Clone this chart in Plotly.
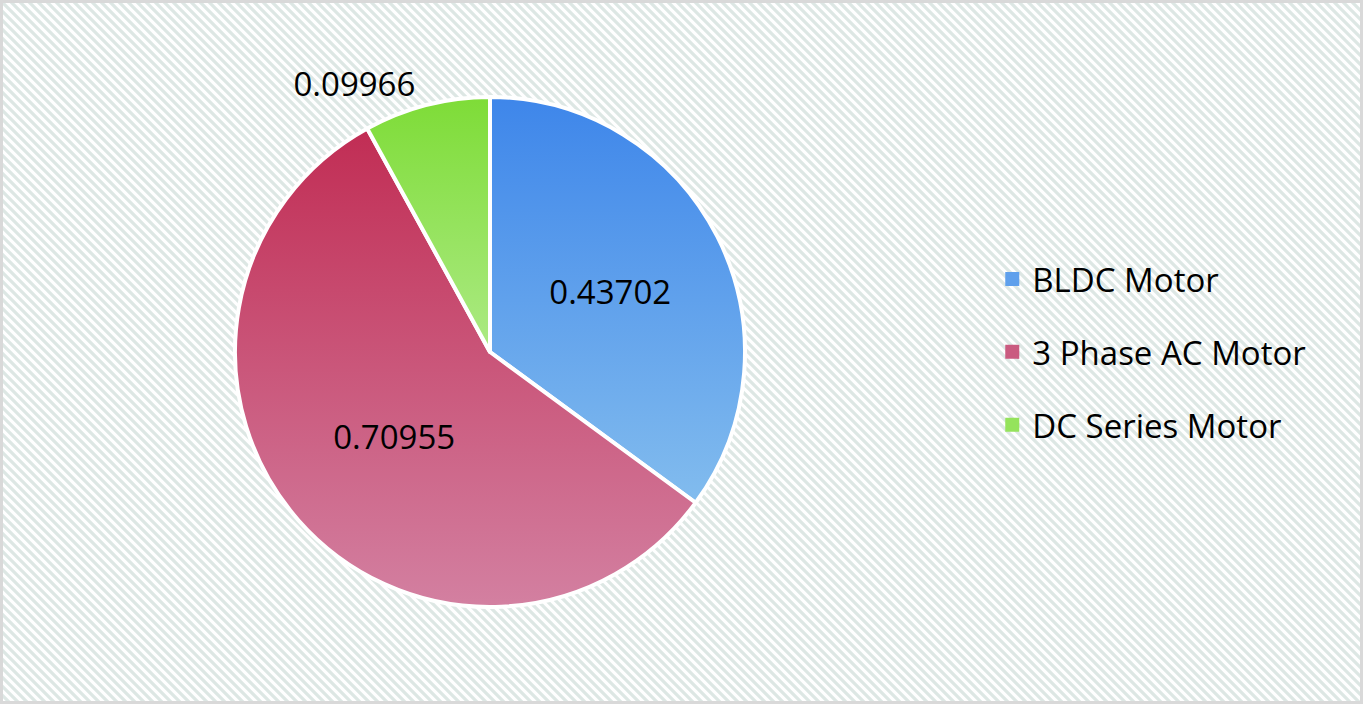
import base64
import json
import plotly.graph_objects as go

# Datos
motores = ['BLDC Motor', '3 Phase AC Motor', 'DC Series Motor']
valores = [0.43702, 0.70955, 0.09966]

# Colores (arriba -> abajo de cada sector, degradado vertical)
grad_top = ['#3E86EA', '#C12D54', '#7EDC37']
grad_bot = ['#82BCEE', '#D380A1', '#ACEA84']
col_mid = ['#5FA0EC', '#CA5B80', '#95E35C']

W, H = 1363, 704

# Fondo rayado con borde gris
svg_bg = f'''<svg xmlns="http://www.w3.org/2000/svg" width="{W}" height="{H}" viewBox="0 0 {W} {H}">
<defs><pattern id="p" width="9" height="9" patternUnits="userSpaceOnUse">
<rect width="9" height="9" fill="#ffffff"/>
<path d="M-2,-2 L11,11 M-2,7 L2,11 M7,-2 L11,2" stroke="#DDE7E4" stroke-width="3.2"/>
</pattern></defs>
<rect width="{W}" height="{H}" fill="url(#p)"/>
<rect x="1.5" y="1.5" width="{W-3}" height="{H-3}" fill="none" stroke="#D9D9D9" stroke-width="3"/>
</svg>'''
bg_uri = 'data:image/svg+xml;base64,' + base64.b64encode(svg_bg.encode()).decode()

fig = go.Figure()

fig.add_trace(go.Pie(
    labels=motores,
    values=valores,
    sort=False,
    direction='clockwise',
    rotation=0,
    textinfo='value',
    textposition='auto',
    insidetextorientation='horizontal',
    textfont=dict(family='Open Sans', size=33, color='black'),
    marker=dict(colors=col_mid, line=dict(color='white', width=4)),
    domain=dict(x=[235 / W, 745 / W], y=[97 / H, 607 / H]),
    showlegend=False,
    hoverinfo='label+value',
))

# Leyenda (entradas con separación)
for i, m in enumerate(motores):
    fig.add_trace(go.Scatter(
        x=[None], y=[None], mode='markers', name=m,
        legendgroup=m,
        marker=dict(symbol='square', size=14, color=col_mid[i]),
    ))

fig.update_layout(
    width=W,
    height=H,
    margin=dict(l=0, r=0, t=0, b=0),
    paper_bgcolor='white',
    plot_bgcolor='rgba(0,0,0,0)',
    xaxis=dict(visible=False),
    yaxis=dict(visible=False),
    showlegend=True,
    legend=dict(
        x=0.728, y=0.5, xanchor='left', yanchor='middle',
        font=dict(family='Open Sans', size=33, color='black'),
        bgcolor='rgba(0,0,0,0)',
        tracegroupgap=27,
    ),
    images=[dict(
        source=bg_uri, xref='paper', yref='paper', x=0, y=1,
        sizex=1, sizey=1, xanchor='left', yanchor='top',
        sizing='stretch', layer='below',
    )],
)

# Degradado vertical en cada sector
post = '''
document.body.style.margin = '0';
document.body.style.overflow = 'hidden';
var gd = document.getElementById('{plot_id}');
var ns = 'http://www.w3.org/2000/svg';
var tops = %s, bots = %s;
var svg = gd.querySelector('svg.main-svg');
var defs = document.createElementNS(ns, 'defs');
tops.forEach(function(c, i) {
  var lg = document.createElementNS(ns, 'linearGradient');
  lg.setAttribute('id', 'gradSector' + i);
  lg.setAttribute('x1', '0'); lg.setAttribute('y1', '0');
  lg.setAttribute('x2', '0'); lg.setAttribute('y2', '1');
  [[0, tops[i]], [1, bots[i]]].forEach(function(s) {
    var st = document.createElementNS(ns, 'stop');
    st.setAttribute('offset', s[0]);
    st.setAttribute('stop-color', s[1]);
    lg.appendChild(st);
  });
  defs.appendChild(lg);
});
svg.insertBefore(defs, svg.firstChild);
gd.querySelectorAll('g.slice path.surface').forEach(function(p, i) {
  p.style.fill = 'url(#gradSector' + i + ')';
});
''' % (json.dumps(grad_top), json.dumps(grad_bot))

fig.write_html('out.html', post_script=post, config={'displayModeBar': False})
